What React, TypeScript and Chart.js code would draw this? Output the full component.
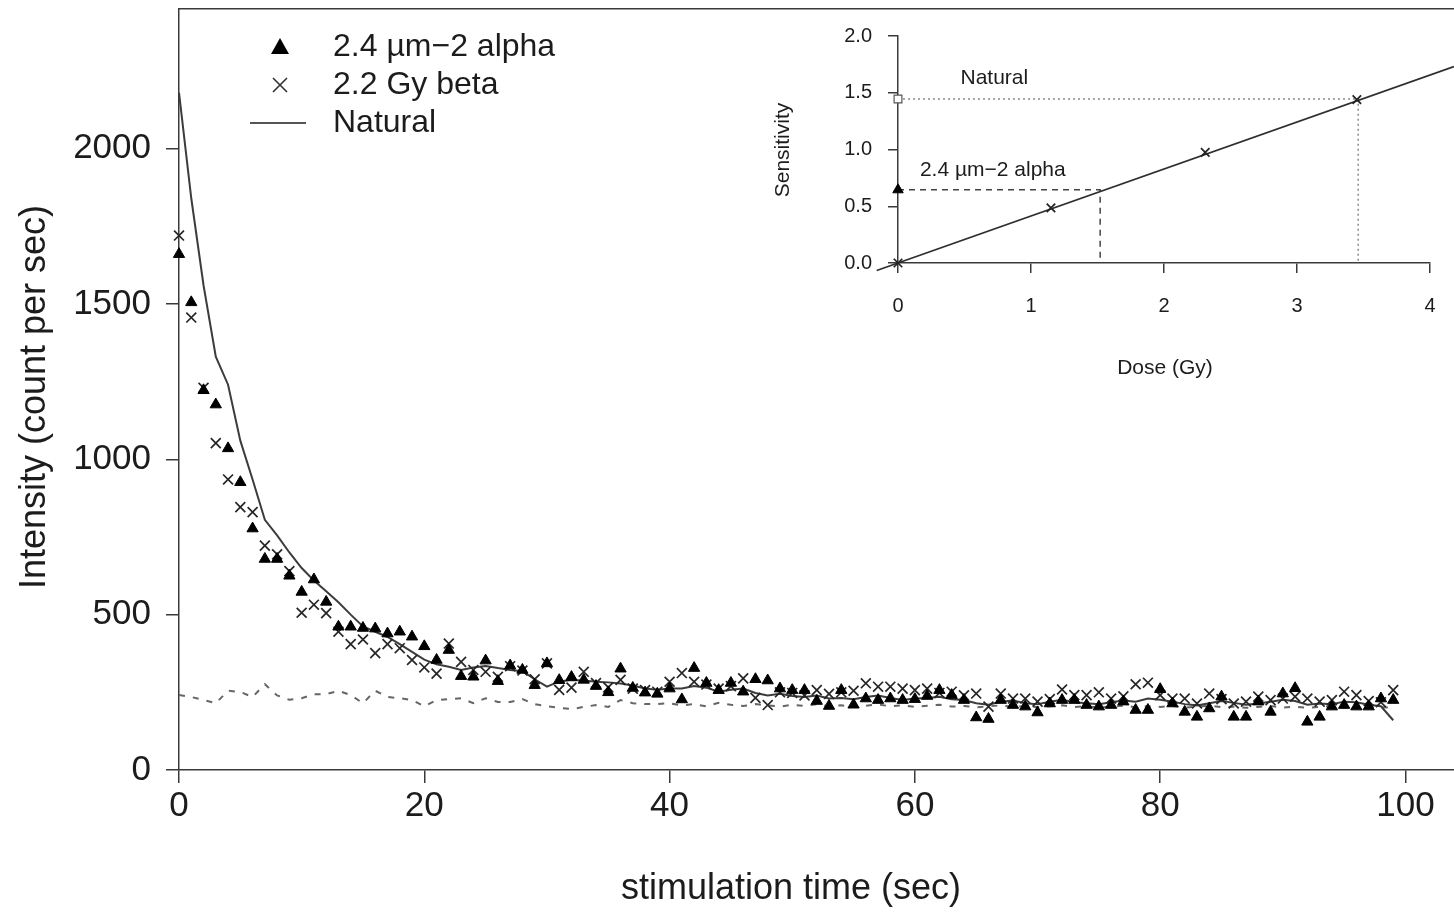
import React, { useEffect, useRef } from 'react';
import { Chart, registerables } from 'chart.js';

Chart.register(...registerables);

const FONT = "'Liberation Sans', Arial, Helvetica, sans-serif";
const TEXT = '#1c1c1c';
const AXIS = '#3a3a3a';

// ---- main chart data (stimulation time in s) ----
const time = [
  0, 1, 2, 3, 4, 5, 6, 7, 8, 9, 10, 11, 12, 13, 14, 15, 16, 17, 18, 19,
  20, 21, 22, 23, 24, 25, 26, 27, 28, 29, 30, 31, 32, 33, 34, 35, 36, 37, 38, 39,
  40, 41, 42, 43, 44, 45, 46, 47, 48, 49, 50, 51, 52, 53, 54, 55, 56, 57, 58, 59,
  60, 61, 62, 63, 64, 65, 66, 67, 68, 69, 70, 71, 72, 73, 74, 75, 76, 77, 78, 79,
  80, 81, 82, 83, 84, 85, 86, 87, 88, 89, 90, 91, 92, 93, 94, 95, 96, 97, 98, 99,
];

const alphaCounts = [
  1660, 1505, 1222, 1176, 1035, 926, 777, 679, 679, 625,
  573, 613, 541, 461, 461, 457, 455, 439, 445, 429,
  398, 354, 386, 302, 300, 352, 286, 336, 322, 273,
  343, 289, 299, 290, 270, 250, 326, 264, 249, 245,
  262, 227, 328, 280, 257, 280, 252, 292, 288, 262,
  257, 257, 222, 206, 257, 210, 230, 225, 230, 225,
  228, 238, 257, 241, 225, 169, 164, 225, 209, 204,
  185, 214, 225, 225, 209, 204, 209, 220, 193, 193,
  260, 214, 187, 171, 198, 236, 171, 171, 220, 187,
  246, 263, 155, 171, 204, 209, 204, 204, 230, 225,
];

const betaCounts = [
  1720, 1456, 1230, 1052, 935, 846, 830, 722, 694, 640,
  506, 532, 505, 445, 405, 420, 376, 405, 392, 354,
  330, 310, 407, 348, 322, 316, 300, 334, 320, 292,
  343, 258, 265, 316, 280, 266, 290, 262, 257, 252,
  284, 312, 284, 275, 262, 270, 295, 232, 209, 250,
  248, 240, 257, 245, 250, 255, 279, 268, 268, 262,
  257, 262, 248, 252, 240, 246, 204, 246, 230, 230,
  220, 228, 259, 241, 241, 250, 230, 237, 276, 281,
  241, 230, 230, 214, 246, 228, 214, 220, 236, 225,
  230, 236, 230, 220, 225, 252, 241, 222, 218, 257,
];

const naturalCounts = [
  2180, 1840, 1560, 1330, 1240, 1060, 935, 805, 755, 700,
  650, 610, 575, 540, 500, 462, 445, 428, 405, 380,
  355, 340, 332, 322, 330, 335, 328, 322, 318, 292,
  268, 285, 290, 288, 284, 282, 278, 272, 262, 258,
  262, 262, 270, 265, 252, 258, 262, 248, 240, 245,
  238, 235, 240, 230, 232, 228, 235, 240, 232, 225,
  230, 232, 236, 228, 225, 215, 210, 220, 224, 215,
  212, 220, 226, 218, 215, 212, 218, 224, 220, 230,
  226, 220, 212, 208, 215, 222, 216, 210, 214, 220,
  226, 222, 210, 214, 212, 220, 218, 210, 205, 160,
];

const backgroundCounts = [
  241, 235, 225, 215, 255, 251, 235, 276, 240, 226,
  231, 244, 244, 255, 241, 215, 255, 235, 231, 225,
  205, 225, 228, 231, 215, 231, 219, 219, 228, 212,
  205, 200, 196, 203, 209, 203, 225, 215, 212, 212,
  215, 208, 212, 205, 216, 210, 206, 212, 208, 204,
  210, 206, 212, 205, 208, 203, 207, 211, 205, 208,
  203, 207, 210, 204, 206, 202, 205, 208, 203, 206,
  202, 205, 208, 203, 205, 201, 204, 207, 202, 205,
  203, 206, 201, 204, 207, 202, 204, 200, 203, 206,
  201, 204, 200, 203, 205, 201, 203, 200, 202, 200,
];

const xTickValues = [0, 20, 40, 60, 80, 100];
const yTickValues = [0, 500, 1000, 1500, 2000];

const legendLabels = ['2.4 \u00b5m\u22122 alpha', '2.2 Gy beta', 'Natural'];
const xTitle = 'stimulation time (sec)';
const yTitle = 'Intensity (count per sec)';

// ---- inset data (dose response) ----
const fitDose = [-0.16, 4.18];
const fitSens = [-0.066, 1.73];
const betaDose = [0, 1.15, 2.31, 3.45];
const betaSens = [0, 0.485, 0.975, 1.44];
const alphaDose = [0];
const alphaSens = [0.645];
const naturalDose = [0];
const naturalSens = [1.445];
const alphaGuideDose = [0, 1.52, 1.52];
const alphaGuideSens = [0.645, 0.645, 0];
const naturalGuideDose = [0, 3.46, 3.46];
const naturalGuideSens = [1.445, 1.445, 0];
const insetXTickValues = [0, 1, 2, 3, 4];
const insetYTickValues = [0, 0.5, 1, 1.5, 2];
const insetXTitle = 'Dose (Gy)';
const insetYTitle = 'Sensitivity';
const insetNaturalLabel = 'Natural';
const insetAlphaLabel = '2.4 \u00b5m\u22122 alpha';

const pts = (xs: number[], ys: number[]) => xs.map((x, i) => ({ x, y: ys[i] }));
const setTicks = (vals: number[]) => (s: any) => {
  s.ticks = vals.map((v) => ({ value: v }));
};

const MAIN_W = 1462;

const mainDecor = {
  id: 'mainDecor',
  afterDraw(chart: any) {
    const ctx = chart.ctx as CanvasRenderingContext2D;
    const a = chart.chartArea;
    ctx.save();
    // top frame line
    ctx.strokeStyle = AXIS;
    ctx.lineWidth = 1.5;
    ctx.beginPath();
    ctx.moveTo(a.left, a.top);
    ctx.lineTo(chart.width + 2, a.top);
    ctx.stroke();

    // axis titles
    ctx.fillStyle = TEXT;
    ctx.font = `36px ${FONT}`;
    ctx.textAlign = 'center';
    ctx.textBaseline = 'middle';
    ctx.fillText(xTitle, 791, 889);
    ctx.save();
    ctx.translate(35, 397);
    ctx.rotate(-Math.PI / 2);
    ctx.fillText(yTitle, 0, 0);
    ctx.restore();

    // legend
    const lx = 280;
    const ys = [47, 85, 123];
    ctx.fillStyle = '#000';
    ctx.beginPath();
    ctx.moveTo(lx, ys[0] - 9);
    ctx.lineTo(lx + 9, ys[0] + 7);
    ctx.lineTo(lx - 9, ys[0] + 7);
    ctx.closePath();
    ctx.fill();
    ctx.strokeStyle = '#333';
    ctx.lineWidth = 1.6;
    ctx.beginPath();
    ctx.moveTo(lx - 7, ys[1] - 7);
    ctx.lineTo(lx + 7, ys[1] + 7);
    ctx.moveTo(lx + 7, ys[1] - 7);
    ctx.lineTo(lx - 7, ys[1] + 7);
    ctx.stroke();
    ctx.strokeStyle = '#555';
    ctx.lineWidth = 2;
    ctx.beginPath();
    ctx.moveTo(250, ys[2]);
    ctx.lineTo(306, ys[2]);
    ctx.stroke();

    ctx.fillStyle = TEXT;
    ctx.font = `32px ${FONT}`;
    ctx.textAlign = 'left';
    legendLabels.forEach((l, i) => ctx.fillText(l, 333, ys[i]));
    ctx.restore();
  },
};

const insetDecor = {
  id: 'insetDecor',
  afterDraw(chart: any) {
    const ctx = chart.ctx as CanvasRenderingContext2D;
    const xs = chart.scales.x;
    const ys = chart.scales.y;
    ctx.save();
    ctx.fillStyle = TEXT;
    ctx.font = `21px ${FONT}`;
    ctx.textBaseline = 'middle';
    ctx.textAlign = 'left';
    ctx.fillText(insetNaturalLabel, xs.getPixelForValue(0.47), ys.getPixelForValue(1.63));
    ctx.fillText(insetAlphaLabel, xs.getPixelForValue(0.165), ys.getPixelForValue(0.82));
    ctx.textAlign = 'center';
    ctx.fillText(insetXTitle, 425, 368);
    ctx.translate(43, 150);
    ctx.rotate(-Math.PI / 2);
    ctx.fillText(insetYTitle, 0, 0);
    ctx.restore();
  },
};

function MainChart() {
  const ref = useRef<HTMLCanvasElement | null>(null);
  useEffect(() => {
    if (!ref.current) return;
    const chart = new Chart(ref.current, {
      type: 'scatter',
      data: {
        datasets: [
          {
            label: legendLabels[0],
            data: pts(time, alphaCounts),
            pointStyle: 'triangle',
            pointRadius: 6.5,
            backgroundColor: '#000',
            borderColor: '#000',
            borderWidth: 1,
            showLine: false,
            clip: false,
          },
          {
            label: legendLabels[1],
            data: pts(time, betaCounts),
            pointStyle: 'crossRot',
            pointRadius: 7,
            backgroundColor: 'transparent',
            borderColor: '#262626',
            borderWidth: 1.7,
            showLine: false,
            clip: false,
          },
          {
            label: legendLabels[2],
            data: pts(time, naturalCounts),
            showLine: true,
            pointRadius: 0,
            borderColor: '#3c3c3c',
            borderWidth: 2,
            backgroundColor: 'transparent',
            clip: false,
          },
          {
            label: 'background',
            data: pts(time, backgroundCounts),
            showLine: true,
            pointRadius: 0,
            borderColor: '#666',
            borderWidth: 2,
            borderDash: [6, 8],
            backgroundColor: 'transparent',
          },
        ],
      } as any,
      options: {
        responsive: false,
        maintainAspectRatio: false,
        animation: false,
        layout: { padding: { top: 8, right: 0, left: 0, bottom: 0 } },
        plugins: { legend: { display: false }, tooltip: { enabled: false } },
        scales: {
          x: {
            type: 'linear',
            min: 0,
            max: 103.9,
            afterBuildTicks: setTicks(xTickValues),
            afterFit: (s: any) => {
              s.height = 144;
              s.paddingLeft = 0;
              s.paddingRight = 0;
            },
            grid: { display: true, drawOnChartArea: false, drawTicks: true, tickLength: 13, color: AXIS, lineWidth: 1.5 },
            border: { display: true, color: AXIS, width: 1.5 },
            ticks: {
              padding: 2,
              maxRotation: 0,
              autoSkip: false,
              color: TEXT,
              font: { family: FONT, size: 35 },
              callback: (v: any) => String(v),
            },
          },
          y: {
            type: 'linear',
            min: 0,
            max: 2450,
            afterBuildTicks: setTicks(yTickValues),
            afterFit: (s: any) => {
              s.width = 179;
              s.paddingTop = 0;
              s.paddingBottom = 0;
            },
            grid: { display: true, drawOnChartArea: false, drawTicks: true, tickLength: 13, color: AXIS, lineWidth: 1.5 },
            border: { display: true, color: AXIS, width: 1.5 },
            ticks: {
              padding: 15,
              autoSkip: false,
              color: TEXT,
              font: { family: FONT, size: 35 },
              callback: (v: any) => String(v),
            },
          },
        },
      } as any,
      plugins: [mainDecor],
    });
    return () => chart.destroy();
  }, []);
  return (
    <canvas
      ref={ref}
      width={MAIN_W}
      height={914}
      style={{ position: 'absolute', left: 0, top: 0, width: MAIN_W, height: 914 }}
    />
  );
}

function InsetChart() {
  const ref = useRef<HTMLCanvasElement | null>(null);
  useEffect(() => {
    if (!ref.current) return;
    const chart = new Chart(ref.current, {
      type: 'scatter',
      data: {
        datasets: [
          {
            label: 'beta',
            data: pts(betaDose, betaSens),
            pointStyle: 'crossRot',
            pointRadius: 6,
            borderColor: '#222',
            borderWidth: 1.7,
            backgroundColor: 'transparent',
            showLine: false,
            clip: false,
          },
          {
            label: 'alpha',
            data: pts(alphaDose, alphaSens),
            pointStyle: 'triangle',
            pointRadius: 6,
            backgroundColor: '#000',
            borderColor: '#000',
            borderWidth: 1,
            showLine: false,
            clip: false,
          },
          {
            label: 'natural',
            data: pts(naturalDose, naturalSens),
            pointStyle: 'rect',
            pointRadius: 5.5,
            backgroundColor: '#fff',
            borderColor: '#555',
            borderWidth: 1.2,
            showLine: false,
            clip: false,
          },
          {
            label: 'fit',
            data: pts(fitDose, fitSens),
            showLine: true,
            pointRadius: 0,
            borderColor: '#2e2e2e',
            borderWidth: 1.7,
            backgroundColor: 'transparent',
            clip: false,
          },
          {
            label: 'alpha guide',
            data: pts(alphaGuideDose, alphaGuideSens),
            showLine: true,
            pointRadius: 0,
            borderColor: '#444',
            borderWidth: 1.5,
            borderDash: [6, 5],
            backgroundColor: 'transparent',
          },
          {
            label: 'natural guide',
            data: pts(naturalGuideDose, naturalGuideSens),
            showLine: true,
            pointRadius: 0,
            borderColor: '#8a8a8a',
            borderWidth: 1.5,
            borderDash: [2, 3],
            backgroundColor: 'transparent',
          },
        ],
      } as any,
      options: {
        responsive: false,
        maintainAspectRatio: false,
        animation: false,
        layout: { padding: { top: 36, right: 24, left: 0, bottom: 0 } },
        plugins: { legend: { display: false }, tooltip: { enabled: false } },
        scales: {
          x: {
            type: 'linear',
            min: 0,
            max: 4,
            afterBuildTicks: setTicks(insetXTickValues),
            afterFit: (s: any) => {
              s.height = 137;
              s.paddingLeft = 0;
              s.paddingRight = 0;
            },
            grid: { display: true, drawOnChartArea: false, drawTicks: true, tickLength: 10, color: AXIS, lineWidth: 1.5 },
            border: { display: true, color: AXIS, width: 1.5 },
            ticks: {
              padding: 21,
              maxRotation: 0,
              autoSkip: false,
              color: TEXT,
              font: { family: FONT, size: 20 },
              callback: (v: any) => String(v),
            },
          },
          y: {
            type: 'linear',
            min: 0,
            max: 2,
            afterBuildTicks: setTicks(insetYTickValues),
            afterFit: (s: any) => {
              s.width = 158;
              s.paddingTop = 0;
              s.paddingBottom = 0;
            },
            grid: { display: true, drawOnChartArea: false, drawTicks: true, tickLength: 10, color: AXIS, lineWidth: 1.5 },
            border: { display: true, color: AXIS, width: 1.5 },
            ticks: {
              padding: 16,
              autoSkip: false,
              color: TEXT,
              font: { family: FONT, size: 20 },
              callback: (v: any) => Number(v).toFixed(1),
            },
          },
        },
      } as any,
      plugins: [insetDecor],
    });
    return () => chart.destroy();
  }, []);
  return (
    <canvas
      ref={ref}
      width={714}
      height={400}
      style={{ position: 'absolute', left: 740, top: 0, width: 714, height: 400 }}
    />
  );
}

export default function App() {
  return (
    <div
      style={{
        position: 'fixed',
        left: 0,
        top: 0,
        width: 1454,
        height: 914,
        overflow: 'hidden',
        background: '#fff',
      }}
    >
      <MainChart />
      <InsetChart />
    </div>
  );
}
